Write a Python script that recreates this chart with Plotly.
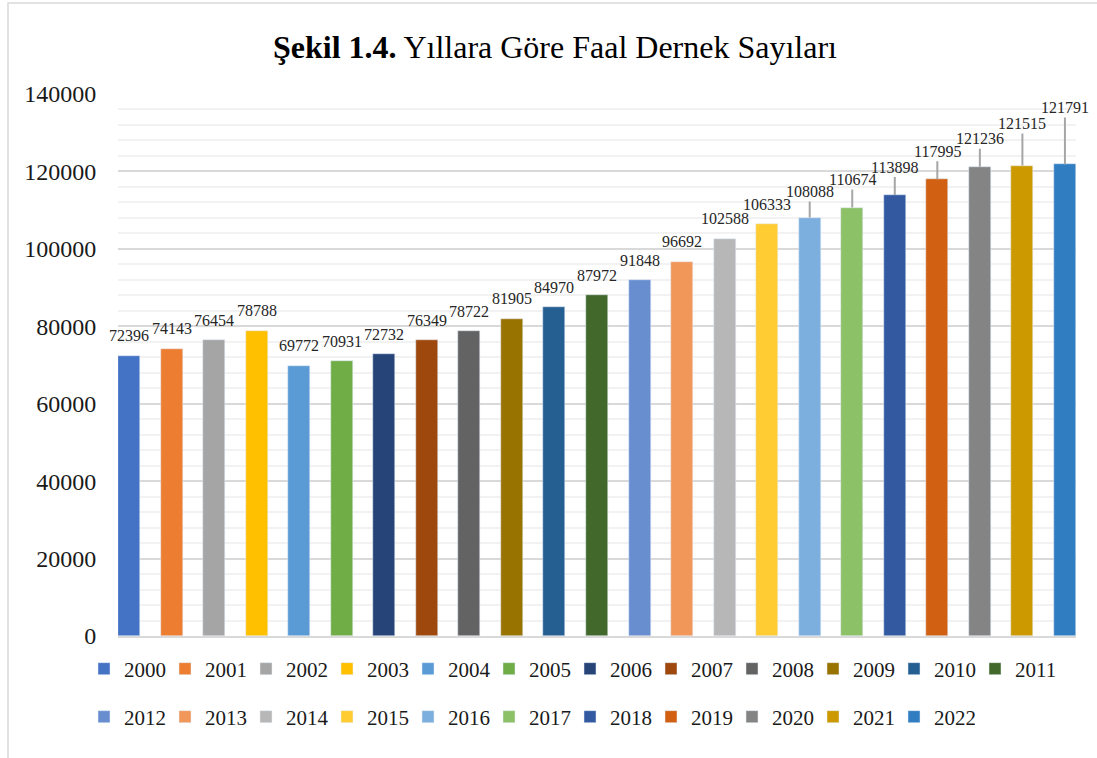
import plotly.graph_objects as go

# --- data ---
years = [str(y) for y in range(2000, 2023)]
counts = [72396, 74143, 76454, 78788, 69772, 70931, 72732, 76349, 78722, 81905,
          84970, 87972, 91848, 96692, 102588, 106333, 108088, 110674, 113898,
          117995, 121236, 121515, 121791]

# Excel-like colour per year
colors = ['#4472C4', '#ED7D31', '#A5A5A5', '#FFC000', '#5B9BD5', '#70AD47',
          '#264478', '#9E480E', '#636363', '#997300', '#255E91', '#43682B',
          '#698ED0', '#F1975A', '#B7B7B7', '#FFCD33', '#7CAFDD', '#8CC168',
          '#335AA1', '#D26012', '#848484', '#CC9A00', '#307DC2']

# how far (px) each data label sits above its bar; the high ones get a leader line
label_lift = [20] * 16 + [26, 28, 28, 28, 28, 42, 57]

FONT = "Liberation Serif, Times New Roman, serif"
W, H = 1097, 758
PL, PR, PT, PB = 118, 21, 94, 122   # plot area margins
pw, ph = W - PL - PR, H - PT - PB

fig = go.Figure()
for i, (yr, val) in enumerate(zip(years, counts)):
    fig.add_bar(x=[yr], y=[val], name=yr, marker_color=colors[i], width=0.517,
                legend='legend' if i < 12 else 'legend2', hoverinfo='x+y')

# data labels (category axis -> position by index, numeric-looking names confuse annotations)
for i, (val, lift) in enumerate(zip(counts, label_lift)):
    if lift > 22:
        fig.add_annotation(x=i, y=val, xref='x', yref='y', text=str(val), showarrow=True,
                           ax=0, ay=-lift, arrowhead=0, arrowwidth=2, arrowcolor='#A6A6A6',
                           standoff=0, font=dict(family=FONT, size=16, color='#262626'))
    else:
        fig.add_annotation(x=i, y=val, xref='x', yref='y', text=str(val), showarrow=False,
                           yshift=lift, font=dict(family=FONT, size=16, color='#262626'))

# outer chart frame
fig.add_shape(type='rect', xref='paper', yref='paper',
              x0=(8 - PL) / pw, x1=1.2, y0=-0.3, y1=(ph + PT - 3) / ph,
              line=dict(color='#D9D9D9', width=1.5), fillcolor='rgba(0,0,0,0)', layer='below')

legend_style = dict(orientation='h', xref='paper', yref='paper',
                    xanchor='left', yanchor='middle', font=dict(family=FONT, size=21, color='#1a1a1a'),
                    entrywidth=36, entrywidthmode='pixels', bgcolor='rgba(0,0,0,0)',
                    itemclick=False, itemdoubleclick=False)

fig.update_layout(
    width=W, height=H,
    title=dict(text="<b>Şekil 1.4.</b> Yıllara Göre Faal Dernek Sayıları",
               x=555 / W, xanchor='center', xref='container',
               y=1 - 47 / H, yanchor='middle', yref='container',
               font=dict(family=FONT, size=32, color='#000000')),
    barmode='overlay',
    bargap=0,
    plot_bgcolor='white', paper_bgcolor='white',
    margin=dict(l=PL, r=PR, t=PT, b=PB, autoexpand=False),
    legend=dict(x=(84 - PL) / pw, y=(ph + PT - 669) / ph, **legend_style),
    legend2=dict(x=(84 - PL) / pw, y=(ph + PT - 717) / ph, **legend_style),
    showlegend=True,
)

fig.update_xaxes(type='category', categoryorder='array', categoryarray=years,
                 showticklabels=False, showgrid=False, range=[-0.26, 22.26],
                 showline=True, linecolor='#D9D9D9', linewidth=1.5, zeroline=False)
fig.update_yaxes(range=[0, 140000], dtick=20000, tickformat='d',
                 showgrid=True, gridcolor='#D9D9D9', gridwidth=1.5,
                 minor=dict(dtick=4000, showgrid=True, gridcolor='#F2F2F2', gridwidth=1.5),
                 ticks='outside', ticklen=16, tickcolor='rgba(0,0,0,0)',
                 zeroline=False, showline=False,
                 tickfont=dict(family=FONT, size=24, color='#1a1a1a'))

fig.write_html("out.html", config={'displayModeBar': False},
               post_script="document.body.style.margin='0';")
